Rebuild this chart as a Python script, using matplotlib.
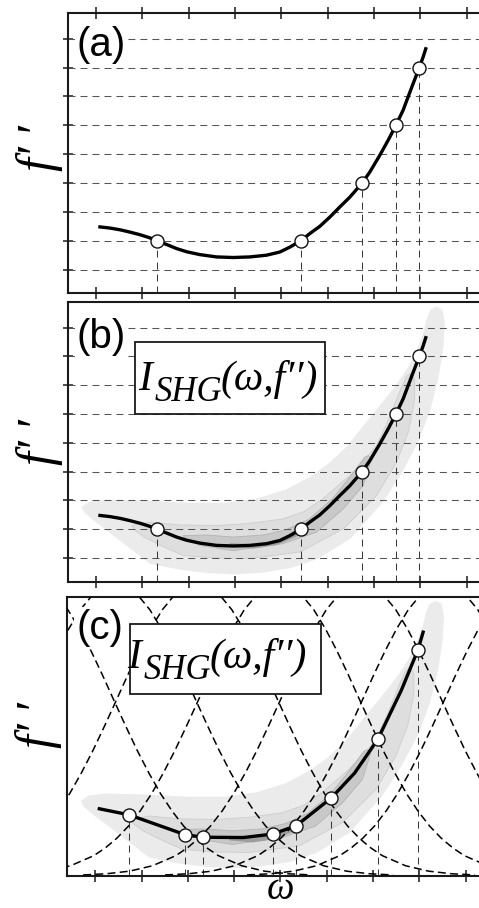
import numpy as np
import matplotlib
matplotlib.use('Agg')
import matplotlib.pyplot as plt
from matplotlib.patches import Rectangle
from matplotlib.transforms import offset_copy

plt.rcParams.update({
    'font.family': 'Liberation Sans',
    'mathtext.fontset': 'stix',
    'axes.linewidth': 1.5,
    'axes.edgecolor': '#1a1a1a',
    'xtick.direction': 'inout',
    'ytick.direction': 'inout',
    'xtick.major.size': 8,
    'ytick.major.size': 7.5,
    'xtick.major.width': 1.1,
    'ytick.major.width': 1.1,
    'xtick.color': '#1a1a1a',
    'ytick.color': '#1a1a1a',
})
SERIF = 'Liberation Serif'

XLIM = (-0.615, 8.615)
YLIM = (-0.82, 8.88)

omega_ticks = np.arange(0, 9)
gdd_levels = np.arange(0, 9)

# phase curve f''(omega)
curve_w = [0.086, 0.302, 0.518, 0.734, 0.949, 1.165, 1.309, 1.525, 1.740, 1.956,
           2.244, 2.603, 2.963, 3.322, 3.682, 3.970, 4.186, 4.423, 4.617, 4.833,
           5.049, 5.264, 5.480, 5.746, 5.912, 6.127, 6.307, 6.472, 6.630, 6.738,
           6.846, 6.976, 7.062, 7.120]
curve_f = [1.48, 1.44, 1.38, 1.30, 1.21, 1.10, 1.00, 0.87, 0.73, 0.62,
           0.52, 0.44, 0.42, 0.44, 0.50, 0.61, 0.78, 1.00, 1.25, 1.50,
           1.82, 2.17, 2.51, 3.00, 3.38, 3.96, 4.48, 4.99, 5.52, 5.98,
           6.44, 6.98, 7.36, 7.65]

# sampled points where the curve meets the grid
samp_w = [1.309, 4.423, 5.746, 6.472, 6.976]
samp_f = [1, 1, 3, 5, 7]

# reconstructed curve (c)
ret_w = [0.09, 0.73, 1.94, 2.33, 3.20, 3.83, 4.34, 5.10, 5.60, 6.10, 6.61, 6.97, 7.08]
ret_f = [1.50, 1.29, 0.60, 0.51, 0.50, 0.62, 0.91, 1.88, 2.74, 3.91, 5.62, 7.03, 7.64]
ret_pts_w = [0.73, 1.94, 2.33, 3.83, 4.34, 5.10, 6.10, 6.97]
ret_pts_f = [1.29, 0.60, 0.51, 0.62, 0.91, 1.88, 3.91, 7.03]

# pulse spectra (c): centres and one-sided bell profile
spec_centres = [-1.34, 0.43, 2.20, 3.97, 5.74, 7.51, 9.28]
spec_dw = [0, 0.25, 0.5, 0.75, 1.0, 1.25, 1.5, 1.75, 2.0, 2.25, 2.5, 2.75, 3.0,
           3.25, 3.5, 3.75, 4.0, 4.5, 5.0, 5.5, 6.0]
spec_h = [10.15, 10.04, 9.73, 9.24, 8.58, 7.81, 6.96, 6.07, 5.19, 4.34, 3.56, 2.85,
          2.24, 1.72, 1.30, 0.96, 0.69, 0.34, 0.15, 0.06, 0.02]

# SHG trace contour levels, outer to inner
shg1_w = [-0.31, -0.15, 0.20, 1.00, 2.00, 2.80, 3.50, 4.10, 4.60, 5.00, 5.40, 5.80,
          6.13, 6.45, 6.75, 6.95, 7.07, 7.14, 7.22, 7.35, 7.48, 7.53, 7.50, 7.40,
          7.23, 6.98, 6.62, 6.20, 5.50, 4.80, 4.20, 3.60, 3.00, 2.40, 1.80, 1.17,
          0.60, 0.20, -0.05, -0.25]
shg1_f = [1.77, 1.95, 2.03, 2.00, 1.92, 1.92, 2.08, 2.38, 2.80, 3.25, 3.85, 4.65,
          5.30, 5.95, 6.65, 7.30, 7.85, 8.30, 8.62, 8.73, 8.63, 8.20, 7.30, 6.30,
          5.20, 4.10, 3.00, 1.95, 0.68, -0.02, -0.35, -0.50, -0.57, -0.52, -0.40, -0.20,
          0.50, 1.00, 1.30, 1.58]
shg2_w = [0.77, 1.17, 1.80, 2.60, 3.30, 4.04, 4.50, 4.90, 5.48, 5.80, 6.06, 6.30,
          6.55, 6.70, 6.80, 6.88, 6.88, 6.75, 6.49, 6.06, 5.34, 4.40, 3.32, 2.60,
          1.88, 1.45, 1.05, 0.85]
shg2_f = [1.13, 1.25, 1.15, 1.13, 1.20, 1.36, 1.62, 2.06, 2.87, 3.40, 3.91, 4.75,
          5.75, 6.30, 6.42, 6.20, 5.50, 4.40, 3.33, 2.17, 1.02, 0.21, -0.02, 0.00,
          0.09, 0.40, 0.72, 0.95]
shg3_w = [1.88, 2.40, 2.96, 3.60, 4.10, 4.60, 5.10, 5.50, 5.80, 5.88, 5.95, 5.77,
          5.34, 4.76, 4.04, 2.96, 2.24, 1.96]
shg3_f = [0.78, 0.80, 0.73, 0.80, 0.98, 1.35, 2.05, 2.85, 3.50, 3.56, 3.45, 2.52,
          1.71, 0.90, 0.50, 0.26, 0.44, 0.65]
shg4_w = [2.89, 3.40, 3.90, 4.19, 4.40, 4.40, 3.90, 3.40, 2.89]
shg4_f = [0.52, 0.48, 0.60, 0.78, 0.95, 0.80, 0.45, 0.33, 0.40]
shg_colors = ['#ebebeb', '#dedede', '#c8c8c8', '#9e9e9e']
shg_edges = ['none', '#cdcdcd', '#b4b4b4', 'none']

fig = plt.figure(figsize=(4.79, 9.08), dpi=100)
W, H = 479.0, 908.0
ax_a = fig.add_axes([67.5 / W, 1 - 293.3 / H, 427.5 / W, 280.0 / H])
ax_b = fig.add_axes([67.5 / W, 1 - 581.7 / H, 427.5 / W, 279.4 / H])
ax_c = fig.add_axes([66.7 / W, 1 - 875.5 / H, 427.5 / W, 279.0 / H])

DASH_THIN = (0, (6.7, 4.8))


def setup(ax, letter, letter_y, label_y, grid=True, top=False):
    ax.set_xlim(*XLIM)
    ax.set_ylim(*YLIM)
    ax.set_xticks(omega_ticks)
    ax.set_xticklabels([])
    if grid:
        ax.set_yticks(gdd_levels)
        ax.set_yticklabels([])
        for g in gdd_levels:
            ax.axhline(g, color='#555555', lw=0.75, ls=DASH_THIN, zorder=2)
    else:
        ax.set_yticks([])
    ax.tick_params(top=top, right=False, labeltop=False)
    ax.text(0.022, letter_y, letter, transform=ax.transAxes, fontsize=29,
            ha='left', va='top', zorder=8,
            bbox=dict(facecolor='white', edgecolor='none', pad=1.5))
    ax.text(-0.066, label_y, "f\u2032\u2009\u2032", transform=ax.transAxes, rotation=90,
            fontsize=36, family=SERIF, style='italic', ha='center', va='center')


def draw_shg(ax):
    levels = [(shg1_w, shg1_f), (shg2_w, shg2_f), (shg3_w, shg3_f), (shg4_w, shg4_f)]
    for (w, f), col, ec in zip(levels, shg_colors, shg_edges):
        ax.fill(w, f, facecolor=col, edgecolor=ec, lw=0.6, zorder=1)


def drop_lines(ax, xs, ys):
    ax.vlines(xs, YLIM[0], ys, colors='#3a3a3a', lw=0.75, linestyles=DASH_THIN, zorder=2)


def shg_label(ax, box, x, y):
    x0, y0, x1, y1 = box
    ax.add_patch(Rectangle((x0, y0), x1 - x0, y1 - y0, facecolor='white',
                           edgecolor='#1a1a1a', lw=1.3, zorder=6))
    kw = dict(family=SERIF, style='italic', zorder=7, ha='left', va='baseline')
    ax.text(x, y, 'I', fontsize=30, **kw)
    ax.text(x, y, 'SHG', fontsize=25,
            transform=offset_copy(ax.transData, fig=fig, x=16, y=-11, units='dots'), **kw)
    ax.text(x, y, "(\u03c9,f\u2032\u2032)", fontsize=30,
            transform=offset_copy(ax.transData, fig=fig, x=82, y=0, units='dots'), **kw)


def markers(ax, xs, ys):
    ax.plot(xs, ys, 'o', ms=9.4, mfc='white', mec='#111111', mew=1.0, zorder=5)


# (a) phase curve with sampling grid
setup(ax_a, '(a)', 0.955, 0.52, top=True)
drop_lines(ax_a, samp_w, samp_f)
ax_a.plot(curve_w, curve_f, color='black', lw=2.4, zorder=4)
markers(ax_a, samp_w, samp_f)

# (b) SHG trace on the same grid
setup(ax_b, '(b)', 0.945, 0.50)
draw_shg(ax_b)
drop_lines(ax_b, samp_w, samp_f)
ax_b.plot(curve_w, curve_f, color='black', lw=2.4, zorder=4)
markers(ax_b, samp_w, samp_f)
shg_label(ax_b, (0.84, 5.01, 4.94, 7.51), 0.91, 5.82)

# (c) SHG trace with pulse spectra
setup(ax_c, '(c)', 0.955, 0.54, grid=False)
draw_shg(ax_c)
prof_w = np.concatenate([-np.array(spec_dw[::-1]), np.array(spec_dw[1:])])
prof_h = np.concatenate([np.array(spec_h[::-1]), np.array(spec_h[1:])])
for c in spec_centres:
    ax_c.plot(c + prof_w, YLIM[0] + prof_h, color='black', lw=1.1,
              ls=(0, (5.2, 2.8)), zorder=3)
drop_lines(ax_c, ret_pts_w, ret_pts_f)
ax_c.plot(ret_w, ret_f, color='black', lw=2.4, zorder=4)
markers(ax_c, ret_pts_w, ret_pts_f)
shg_label(ax_c, (0.755, 5.48, 4.88, 7.94), 0.69, 6.38)
ax_c.text(0.499, -0.084, '\u03c9', transform=ax_c.transAxes, fontsize=28,
          family=SERIF, style='italic', ha='center', va='baseline')

fig.savefig('out.png', dpi=100)
